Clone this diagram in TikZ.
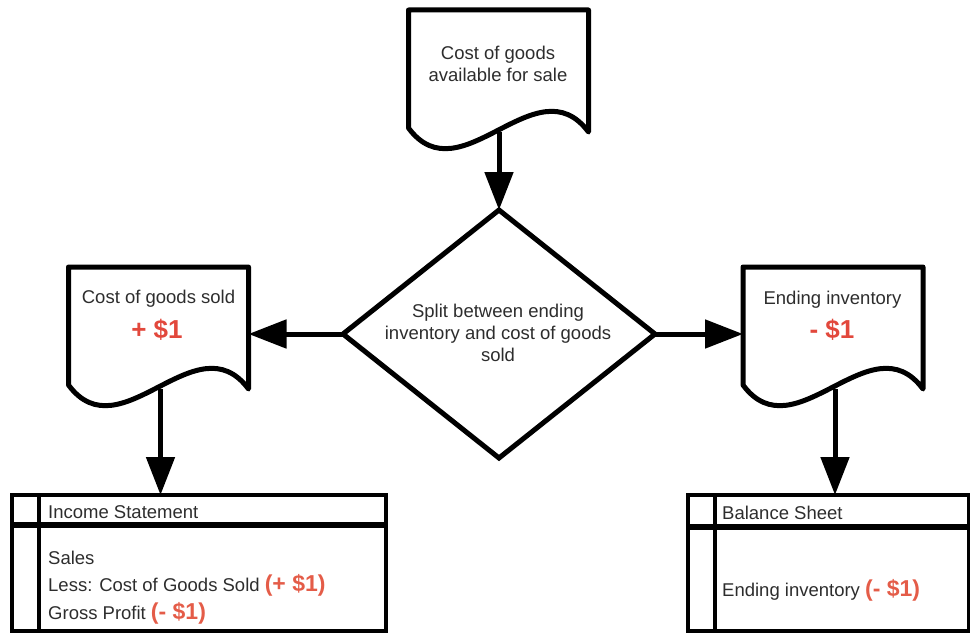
\documentclass[tikz,border=0pt]{standalone}
\usepackage{fontspec}
\setmainfont{Liberation Sans}
\usetikzlibrary{arrows.meta,shapes.geometric,calc}
\definecolor{txt}{RGB}{45,45,45}
\definecolor{amt}{RGB}{226,72,60}
\definecolor{tamt}{RGB}{228,92,72}
\tikzset{
  docline/.style={line width=5pt, line join=round},
  tblline/.style={line width=4.5pt},
  conn/.style={line width=5pt, -{Triangle[length=38pt,width=28pt]}},
  docshape/.pic={
    \draw[docline] (-90,-60) -- (90,-60) -- (90,62)
      .. controls (38,-8) and (-38,128) .. (-90,58) -- cycle;
    \coordinate (-s) at (2,62);
    \coordinate (-e) at (90,0);
    \coordinate (-w) at (-90,0);
  },
  lbl/.style={text=txt, font=\fontsize{18.5}{22}\selectfont, inner sep=0pt, align=center},
  amount/.style={text=amt, font=\fontsize{26}{30}\selectfont\bfseries, inner sep=0pt},
  tbl/.style={draw, tblline, inner sep=0pt, outer sep=0pt},
}
\newcommand\tamount[1]{\textcolor{tamt}{\fontsize{23}{26}\selectfont\bfseries #1}}
\begin{document}
\begin{tikzpicture}[x=1pt,y=-1pt]
\useasboundingbox (0,0) rectangle (970,634);

% documents
\pic (topdoc) at (498.5,70) {docshape};
\node[lbl] (topdoctext) at (498,64) {Cost of goods\\available for sale};

\pic (ldoc) at (158.5,327) {docshape};
\node[lbl] (ldoctext) at (158.5,299) {Cost of goods sold};
\node[amount] (ldocamt) at (157,330) {+ \$1};

\pic (rdoc) at (833,327) {docshape};
\node[lbl] (rdoctext) at (832.5,300) {Ending inventory};
\node[amount] (rdocamt) at (832,330) {- \$1};

% decision
\node[diamond, draw, line width=5pt, inner sep=0pt, outer sep=0pt,
      minimum width=312pt, minimum height=248pt] (split) at (499,334) {};
\node[lbl] (splittext) at (498,333) {Split between ending\\inventory and cost of goods\\sold};

% tables
\node[tbl, minimum width=374pt, minimum height=136pt] (income) at (199,563) {};
\coordinate (incdivL) at (12,525);
\coordinate (incdivR) at (386,525);
\coordinate (incvT) at (39,495);
\coordinate (incvB) at (39,631);
\draw[line width=5.5pt] (incdivL) -- (incdivR);
\draw[tblline] (incvT) -- (incvB);
\node[lbl, anchor=west] (inchead) at (48,512) {Income Statement};
\node[lbl, anchor=west] (incsales) at (48,558) {Sales};
\node[lbl, anchor=west] (incless) at (48,585) {Less: Cost of Goods Sold \tamount{(+ \$1)}};
\node[lbl, anchor=west] (incgross) at (48,613) {Gross Profit \tamount{(- \$1)}};

\node[tbl, minimum width=281pt, minimum height=136pt] (balance) at (828.5,563) {};
\coordinate (baldivL) at (688,527);
\coordinate (baldivR) at (969,527);
\coordinate (balvT) at (715,495);
\coordinate (balvB) at (715,631);
\draw[line width=5.5pt] (baldivL) -- (baldivR);
\draw[tblline] (balvT) -- (balvB);
\node[lbl, anchor=west] (balhead) at (722,513) {Balance Sheet};
\node[lbl, anchor=west] (balinv) at (722,590) {Ending inventory \tamount{(- \$1)}};

% connectors
\draw[conn] (split.north |- topdoc-s) -- (split.north);
\draw[conn] (split.west) -- (split.west -| ldoc-e);
\draw[conn] (split.east) -- (split.east -| rdoc-w);
\draw[conn] (ldoc-s) -- (ldoc-s |- income.north);
\draw[conn] (rdoc-s) -- (rdoc-s |- balance.north);
\end{tikzpicture}
\end{document}
